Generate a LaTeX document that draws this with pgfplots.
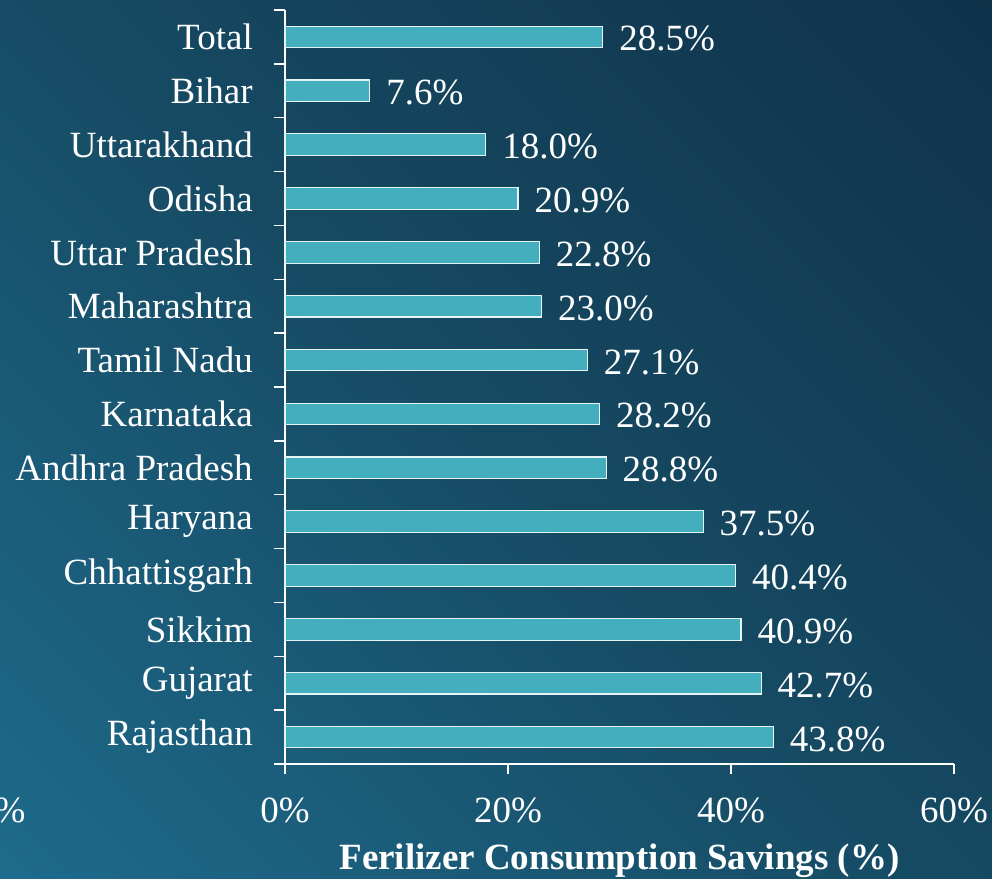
\documentclass[border=0pt]{standalone}
\usepackage{pgfplots}
\pgfplotsset{compat=1.18}
\usepackage{fontspec}
\setmainfont{Liberation Serif}
\definecolor{bgTR}{HTML}{0F3249}
\definecolor{bgBL}{HTML}{1E6B8C}
\definecolor{bgMID}{HTML}{164A63}
\definecolor{barfill}{HTML}{42AEBE}
\definecolor{baredge}{HTML}{E6F4F6}
\newcommand\bigf{\fontsize{27.75pt}{33pt}\selectfont}
\begin{document}
\begin{tikzpicture}
\shade[shading=axis, bottom color=bgBL, top color=bgTR, middle color=bgMID, shading angle=-45] (-150pt,-150pt) rectangle (894pt,808.5pt);
\begin{axis}[
  at={(213.75pt,85.5pt)}, anchor=south west,
  scale only axis,
  width=501.75pt, height=565.5pt,
  xmin=0, xmax=60,
  ymin=-0.5, ymax=13.5,
  xbar, bar width=0.4,
  axis lines*=left,
  axis line style={white, line width=1pt},
  every tick/.style={white, line width=1pt},
  tick align=outside,
  major tick length=7.5pt,
  minor tick length=8.25pt,
  xtick={0,20,40,60},
  xticklabels={0\%,20\%,40\%,60\%},
  ytick={0,...,13},
  yticklabels={Rajasthan,Gujarat,Sikkim,Chhattisgarh,Haryana,Andhra Pradesh,Karnataka,Tamil Nadu,Maharashtra,Uttar Pradesh,Odisha,Uttarakhand,Bihar,Total},
  minor ytick={-0.5,0.5,...,13.5},
  major y tick style={draw=none},
  yticklabel style={font=\bigf, text=white, inner sep=0pt, xshift=-16.5pt},
  xticklabel style={font=\bigf, text=white, inner sep=0pt, yshift=-18pt},
  xlabel={\textbf{Ferilizer Consumption Savings (\%)}},
  xlabel style={font=\bigf, text=white, at={(axis description cs:0.5,0)}, anchor=center, yshift=-72.75pt},
  nodes near coords={\pgfmathprintnumber[fixed,fixed zerofill,precision=1,assume math mode=true]{\pgfplotspointmeta}\%},
  point meta=x,
  every node near coord/.style={font=\bigf, text=white, anchor=west, inner sep=0pt, xshift=12pt, yshift=-1.5pt},
  clip=false,
]
\addplot[fill=barfill, draw=baredge, line width=0.9pt] coordinates {
(43.8,0) (42.7,1) (40.9,2) (40.4,3) (37.5,4) (28.8,5) (28.2,6) (27.1,7) (23.0,8) (22.8,9) (20.9,10) (18.0,11) (7.6,12) (28.5,13)
};
\end{axis}
\node[font=\bigf, text=white] at (7.5pt,51pt) {\%};
\pgfresetboundingbox
\useasboundingbox (0pt,0pt) rectangle (744pt,658.5pt);
\end{tikzpicture}
\end{document}
